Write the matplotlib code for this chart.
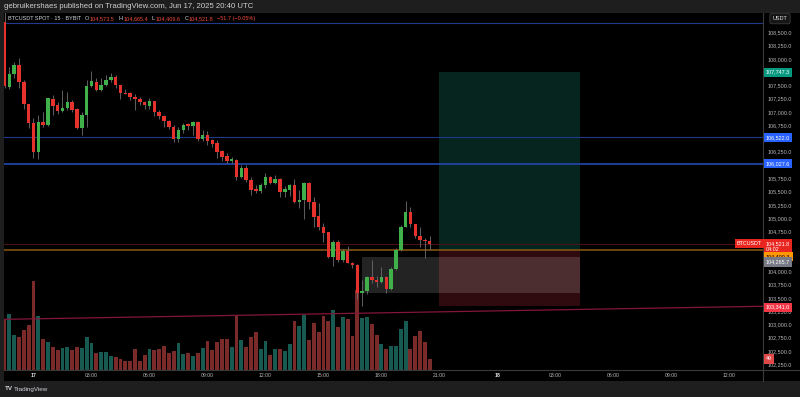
import numpy as np
import pandas as pd
import matplotlib
matplotlib.use('Agg')
import matplotlib.pyplot as plt
from matplotlib import transforms
from matplotlib.patches import Rectangle
from matplotlib.lines import Line2D

plt.rcParams['font.family'] = ['Liberation Sans', 'DejaVu Sans']

# BTCUSDT spot (Bybit), 15 min candles, 16 Jun 22:30 -> 17 Jun 20:30 UTC
times = pd.date_range('2025-06-16 22:30', '2025-06-17 20:30', freq='15min')

opens = [108700, 107476, 107709, 107884, 107570, 107144, 106798, 106240, 106805, 106755,
         107244, 107130, 107024, 107080, 107180, 107050, 106704, 106943, 107495, 107570,
         107420, 107508, 107602, 107665, 107508, 107365, 107350, 107290, 107240, 107195,
         107118, 107205, 107005, 106924, 106836, 106722, 106490, 106660, 106770, 106740,
         106805, 106485, 106565, 106470, 106410, 106265, 106170, 106082, 106095, 105780,
         105950, 105720, 105540, 105515, 105625, 105770, 105670, 105740, 105500, 105530,
         105625, 105300, 105340, 105670, 105310, 105040, 104830, 104735, 104275, 104560,
         104210, 104380, 104165, 104110, 103600, 103620, 103890, 103840, 103790, 103890,
         103660, 104045, 104400, 104840, 105120, 104885, 104665, 104590, 104573.5]
highs = [108900, 107852, 107946, 108010, 107602, 107150, 106880, 106943, 107005, 107270,
         107320, 107180, 107413, 107370, 107220, 107070, 107005, 107602, 107770, 107640,
         107640, 107695, 107740, 107700, 107510, 107440, 107380, 107330, 107280, 107210,
         107260, 107210, 107030, 106943, 106850, 106745, 106720, 106790, 106790, 106830,
         106830, 106660, 106645, 106490, 106470, 106280, 106220, 106160, 106110, 106000,
         106000, 105770, 105630, 105660, 105845, 105800, 105810, 105750, 105600, 105650,
         105735, 105530, 105690, 105690, 105405, 105280, 104900, 104745, 104590, 104590,
         104420, 104470, 104180, 104130, 103830, 103920, 104210, 103910, 104075, 103920,
         104080, 104440, 104870, 105330, 105205, 104890, 104840, 104620, 104665.4]
lows = [107450, 107432, 107640, 107445, 107050, 106704, 106139, 106114, 106722, 106740,
        106943, 106960, 107005, 107037, 106990, 106680, 106566, 106722, 107476, 107395,
        107395, 107480, 107570, 107450, 107250, 107330, 107230, 107037, 107140, 107050,
        107050, 106920, 106870, 106722, 106675, 106435, 106435, 106610, 106660, 106570,
        106450, 106450, 106380, 106340, 106130, 106080, 106030, 106040, 105720, 105760,
        105680, 105440, 105470, 105470, 105560, 105640, 105640, 105405, 105400, 105420,
        105280, 105185, 104985, 105170, 104840, 104780, 104560, 104245, 104100, 104175,
        104175, 104150, 104055, 103470, 103350, 103570, 103780, 103710, 103770, 103600,
        103640, 104030, 104380, 104830, 104840, 104620, 104460, 104245, 104409.6]
closes = [107490, 107709, 107884, 107570, 107144, 106798, 106240, 106805, 106755, 107257,
          107118, 107024, 107080, 107180, 107037, 106704, 106943, 107495, 107583, 107420,
          107508, 107602, 107665, 107508, 107350, 107345, 107290, 107240, 107180, 107125,
          107205, 107005, 106924, 106830, 106722, 106490, 106660, 106755, 106740, 106810,
          106485, 106565, 106460, 106397, 106250, 106158, 106082, 106110, 105780, 105950,
          105720, 105530, 105515, 105625, 105770, 105670, 105740, 105500, 105540, 105625,
          105300, 105340, 105670, 105310, 105030, 104830, 104730, 104275, 104560, 104210,
          104380, 104160, 104110, 103597, 103620, 103890, 103840, 103790, 103890, 103660,
          104045, 104400, 104840, 105120, 104885, 104665, 104590, 104573.5, 104521.8]
volume = [227, 249, 156, 147, 178, 200, 396, 240, 138, 125,
          102, 89, 98, 102, 89, 102, 98, 147, 120, 76,
          80, 80, 62, 58, 49, 40, 40, 93, 40, 67,
          93, 89, 93, 107, 76, 85, 120, 71, 76, 62,
          76, 98, 129, 89, 125, 138, 138, 102, 240, 134,
          102, 147, 169, 93, 129, 67, 93, 93, 85, 116,
          218, 196, 245, 134, 209, 169, 240, 218, 267, 191,
          236, 227, 151, 356, 231, 236, 205, 156, 116, 93,
          107, 107, 182, 218, 93, 151, 174, 125, 49]

# drawings
top_line = 108680.0
level_a = 106522.0
level_b = 106027.6
take_profit = 107747.3
entry = 104400.3
stop_loss = 103341.0
box_top, box_bottom = 104265.7, 103585.0
box_hours = (17.0, 28.25)
position_hours = (21.0, 28.25)
trend_hours = [-1.5, 37.75]
trend_prices = [103095.0, 103341.0]

price_ticks = np.arange(102250, 108501, 250)
hidden_ticks = [107750, 106500, 106000, 104500, 104250]   # covered by the tags
time_ticks = [0, 3, 6, 9, 12, 15, 18, 21, 24, 27, 30, 33, 36]
time_labels = ['17', '03:00', '06:00', '09:00', '12:00', '15:00', '18:00', '21:00',
               '18', '03:00', '06:00', '09:00', '12:00']

o = np.array(opens); h = np.array(highs); l = np.array(lows); c = np.array(closes)
hours = ((times - pd.Timestamp('2025-06-17')) / pd.Timedelta(hours=1)).to_numpy()
up = c >= o

RED = '#e5322d'
GREEN = '#3fb04a'
TXT = '#b8b8b8'

W, H = 800, 397
fig = plt.figure(figsize=(8, 3.97), dpi=100, facecolor='black')
fx = lambda px: px / W
fy = lambda py: 1 - py / H

# grey frame strips (header, footer, left edge)
for rect in [(0, fy(13), 1, 13 / H), (0, 0, 1, 16 / H), (0, 0, fx(4), 1)]:
    fig.add_artist(Rectangle(rect[:2], rect[2], rect[3], transform=fig.transFigure,
                             color='#1e1e1e', lw=0, zorder=-5))

pane = [fx(4), fy(370), (763 - 4) / W, (370 - 13) / H]
vax = fig.add_axes(pane, zorder=0)
ax = fig.add_axes(pane, zorder=1)
ax.patch.set_alpha(0)
vax.axis('off')

xlim = (-1.526, 37.74)

# volume
vax.bar(hours, volume, width=0.2, color=np.where(up, '#175a52', '#7a2b29'), lw=0)
vax.set_xlim(xlim)
vax.set_ylim(0, 1590)

# long position + grey zone
ax.add_patch(Rectangle((position_hours[0], entry), position_hours[1] - position_hours[0],
                       take_profit - entry, color='#05251e', lw=0, zorder=0.5))
ax.add_patch(Rectangle((position_hours[0], stop_loss), position_hours[1] - position_hours[0],
                       entry - stop_loss, color='#2f0b0f', lw=0, zorder=0.5))
ax.add_patch(Rectangle((box_hours[0], box_bottom), box_hours[1] - box_hours[0],
                       box_top - box_bottom, color='white', alpha=0.14, lw=0, zorder=0.6))

# horizontal levels
ax.axhline(top_line, color='#1f3a8c', lw=0.8, zorder=1)
ax.axhline(level_a, color='#1f3a8c', lw=0.8, zorder=1)
ax.axhline(level_b, color='#2143a3', lw=1.3, zorder=1)
ax.axhline(entry, color='#8a5a12', lw=1.1, zorder=1)
ax.axhline(c[-1], color='#4d1214', lw=0.7, zorder=1)
ax.plot(trend_hours, trend_prices, color='#84163a', lw=0.9, zorder=1)

# candles
ax.vlines(hours, l, h, color='#6e6e6e', lw=0.6, zorder=2)
ax.bar(hours, np.maximum(np.abs(c - o), 18), bottom=np.minimum(o, c), width=0.18,
       color=np.where(up, GREEN, RED), lw=0, zorder=3)

ax.set_xlim(xlim)
ax.set_ylim(102141, 108863)
for s in ax.spines.values():
    s.set_visible(False)
ax.yaxis.tick_right()
ax.set_yticks(price_ticks, ['' if p in hidden_ticks else f'{p:,.1f}' for p in price_ticks])
ax.tick_params(axis='y', length=0, pad=3, labelsize=3.9, labelcolor=TXT)
ax.set_xticks(time_ticks, time_labels)
ax.tick_params(axis='x', length=0, pad=2.2, labelsize=3.7, labelcolor=TXT)
for lbl in ax.get_xticklabels():
    if lbl.get_text() in ('17', '18'):
        lbl.set_fontweight('bold')
        lbl.set_color('#e6e6e6')

# separators
fig.add_artist(Line2D([fx(763)] * 2, [fy(13), fy(381)], color='#3a3a3a', lw=0.8))
fig.add_artist(Line2D([fx(4), 1], [fy(370)] * 2, color='#3a3a3a', lw=0.8))

# price tags on the scale
blend = transforms.blended_transform_factory(fig.transFigure, ax.transData)


def tag(price, text, fc, tc='white', dy=0, x=766, ha='left', trans=None):
    base = trans if trans is not None else blend
    tr = transforms.offset_copy(base, fig=fig, x=0, y=-dy, units='dots')
    fig.text(fx(x), price, text, transform=tr, ha=ha, va='center', fontsize=3.9,
             color=tc, linespacing=1.05, zorder=6,
             bbox=dict(boxstyle='square,pad=0.4', fc=fc, ec='none'))


tag(take_profit, '107,747.3', '#089981')
tag(level_a, '106,522.0', '#2962ff')
tag(level_b, '106,027.6', '#2962ff')
tag(c[-1], f'{c[-1]:,.1f}\n04:02', '#e8261f', dy=3)
tag(entry, '104,400.3', '#ff9800', tc='black', dy=6.7)
tag(box_top, '104,265.7', '#787b86', dy=5)
tag(stop_loss, '103,341.0', '#f23645', dy=1)
tag(c[-1], 'BTCUSDT', '#e8261f', x=762, ha='right')
vblend = transforms.blended_transform_factory(fig.transFigure, vax.transData)
tag(volume[-1], f'{volume[-1]}', '#e04848', trans=vblend)

fig.text(fx(780), fy(18.5), 'USDT', ha='center', va='center', fontsize=4, color='#e0e0e0',
         zorder=6, bbox=dict(boxstyle='round,pad=0.5,rounding_size=0.3', fc='#161616', ec='#3a3a3a', lw=0.6))

# header and legend
fig.text(fx(4), fy(6.5), 'gebruikershaes published on TradingView.com, Jun 17, 2025 20:40 UTC',
         fontsize=5.6, color='#cfcfcf', va='center')

chg = c[-1] - c[-2]
LEG = '#f04a3e'
parts = [('BTCUSDT SPOT · 15 · BYBIT', '#d1d4dc', 4),
         ('O', '#d1d4dc', 0.5), (f'{o[-1]:,.1f}', LEG, 4),
         ('H', '#d1d4dc', 0.5), (f'{h[-1]:,.1f}', LEG, 4),
         ('L', '#d1d4dc', 0.5), (f'{l[-1]:,.1f}', LEG, 4),
         ('C', '#d1d4dc', 0.5), (f'{c[-1]:,.1f}', LEG, 3),
         (f'\u2212{abs(chg):.1f} (\u2212{abs(chg) / c[-2] * 100:.2f}%)', LEG, 0)]
r = fig.canvas.get_renderer()
xpos = 8.0
for s, col, gap in parts:
    t = fig.text(fx(xpos), fy(18.5), s, fontsize=4.0, color=col, va='center', zorder=6)
    xpos = t.get_window_extent(renderer=r).x1 + gap

# footer
fig.text(fx(5), fy(389), 'TV', fontsize=4.5, color='#d1d4dc', weight='bold', va='center')
fig.text(fx(14), fy(389), 'TradingView', fontsize=4.5, color='#d1d4dc', va='center')

fig.savefig('out.png', dpi=100, facecolor=fig.get_facecolor())
